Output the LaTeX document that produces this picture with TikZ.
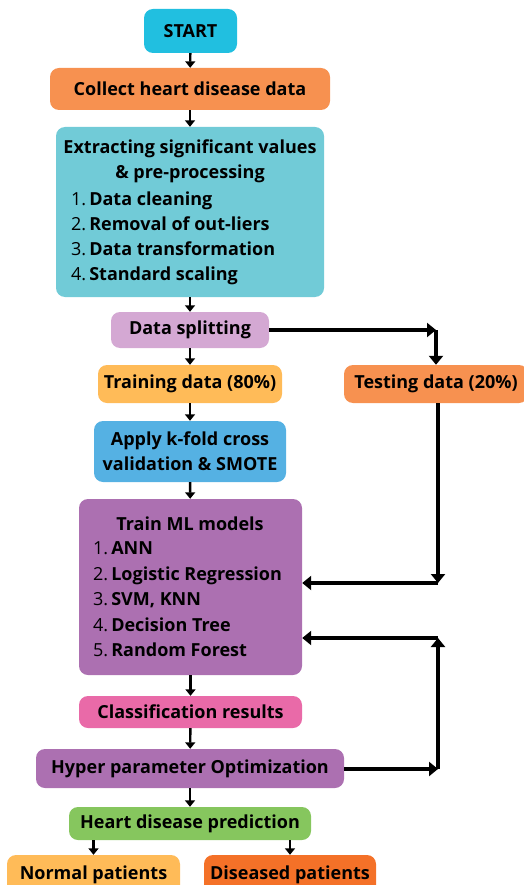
\documentclass[tikz,border=0pt]{standalone}
\usepackage{fontspec}
\setmainfont{Open Sans}
\usetikzlibrary{arrows.meta}
\definecolor{cstart}{HTML}{21BFE0}
\definecolor{ccollect}{HTML}{F79150}
\definecolor{cextract}{HTML}{71CBD7}
\definecolor{csplit}{HTML}{D4A8D3}
\definecolor{ctrain}{HTML}{FFBB58}
\definecolor{capply}{HTML}{55B1E3}
\definecolor{cmodel}{HTML}{AC70B1}
\definecolor{cclass}{HTML}{E96AA8}
\definecolor{cpred}{HTML}{86C65E}
\definecolor{cdis}{HTML}{F47128}
\tikzset{
  box/.style={rounded corners=9pt, inner sep=0pt, align=center,
    font=\fontsize{18}{25}\selectfont\bfseries},
  txt/.style={inner sep=0pt, align=center, font=\fontsize{18}{25}\selectfont\bfseries},
  lst/.style={inner sep=0pt, anchor=north west, align=left},
  arr/.style={-{Triangle[length=6.5pt,width=10pt]}, line width=2.4pt},
  bigarr/.style={-{Triangle[length=9pt,width=14pt]}, line width=3.5pt},
}
\newcommand{\itm}[2]{{\normalfont #1}&#2}
\begin{document}
\begin{tikzpicture}[x=1pt,y=-1pt]
\useasboundingbox (0,0) rectangle (523,885);
% process boxes
\node[box, fill=cstart, minimum width=93pt, minimum height=44pt] (start) at (190.5,31) {START};
\node[box, fill=ccollect, minimum width=280pt, minimum height=42pt] (collect) at (190,89) {Collect heart disease data};
\node[box, fill=cextract, minimum width=268pt, minimum height=170pt] (extract) at (190,212) {};
\node[txt] (extitle) at (190,161.5) {Extracting significant values\\\& pre-processing};
\node[txt, lst, font=\fontsize{18}{25}\selectfont\bfseries] (exlist) at (71,187.5)
  {\begin{tabular}{@{}r@{\,}l@{}}
   \itm{1.}{Data cleaning}\\
   \itm{2.}{Removal of out-liers}\\
   \itm{3.}{Data transformation}\\
   \itm{4.}{Standard scaling}
   \end{tabular}};
\node[box, fill=csplit, minimum width=158pt, minimum height=36pt] (split) at (190,330) {Data splitting};
\node[box, fill=ctrain, minimum width=184pt, minimum height=38pt] (training) at (190,384) {Training data (80\%)};
\node[box, fill=ccollect, minimum width=184pt, minimum height=38pt] (testing) at (436,384) {Testing data (20\%)};
\node[box, fill=capply, minimum width=192pt, minimum height=61pt] (apply) at (190,451.5) {Apply k-fold cross\\validation \& SMOTE};
\node[box, fill=cmodel, minimum width=223pt, minimum height=176pt] (model) at (190.5,587) {};
\node[txt] (mltitle) at (190,524) {Train ML models};
\node[txt, lst, font=\fontsize{18}{25.5}\selectfont\bfseries] (mllist) at (93,536.5)
  {\begin{tabular}{@{}r@{\,}l@{}}
   \itm{1.}{ANN}\\
   \itm{2.}{Logistic Regression}\\
   \itm{3.}{SVM, KNN}\\
   \itm{4.}{Decision Tree}\\
   \itm{5.}{Random Forest}
   \end{tabular}};
\node[box, fill=cclass, minimum width=223pt, minimum height=32pt] (class) at (190.5,712) {Classification results};
\node[box, fill=cmodel, minimum width=308pt, minimum height=39pt] (hyper) at (190,768.5) {Hyper parameter Optimization};
\node[box, fill=cpred, minimum width=242pt, minimum height=33pt] (pred) at (190,823.5) {Heart disease prediction};
\node[box, fill=ctrain, minimum width=173pt, minimum height=40pt] (normal) at (93.5,875) {Normal patients};
\node[box, fill=cdis, minimum width=172pt, minimum height=40pt] (diseased) at (290,875) {Diseased patients};
% main flow
\draw[arr] (start) -- (collect);
\draw[arr] (collect) -- (extract);
\draw[arr] (extract) -- (split);
\draw[arr] (split) -- (training);
\draw[arr] (training) -- (apply);
\draw[arr] (apply) -- (model);
\draw[arr] (model) -- (class);
\draw[arr] (class) -- (hyper);
\draw[arr] (hyper) -- (pred);
\draw[arr] (pred.south -| normal) -- (normal);
\draw[arr] (pred.south -| diseased) -- (diseased);
% side loops
\coordinate (c1) at (436,330);
\draw[bigarr] (split.east) -- (c1);
\draw[bigarr] (c1) -- (testing.north -| c1);
\coordinate (c2) at (438,583);
\draw[bigarr] (testing.south -| c2) -- (c2);
\draw[bigarr] (c2) -- (c2 -| model.east);
\coordinate (c3) at (438,769);
\coordinate (c4) at (438,638);
\draw[bigarr] (hyper.east |- c3) -- (c3);
\draw[bigarr] (c3) -- (c4);
\draw[bigarr] (c4) -- (c4 -| model.east);
\end{tikzpicture}
\end{document}
